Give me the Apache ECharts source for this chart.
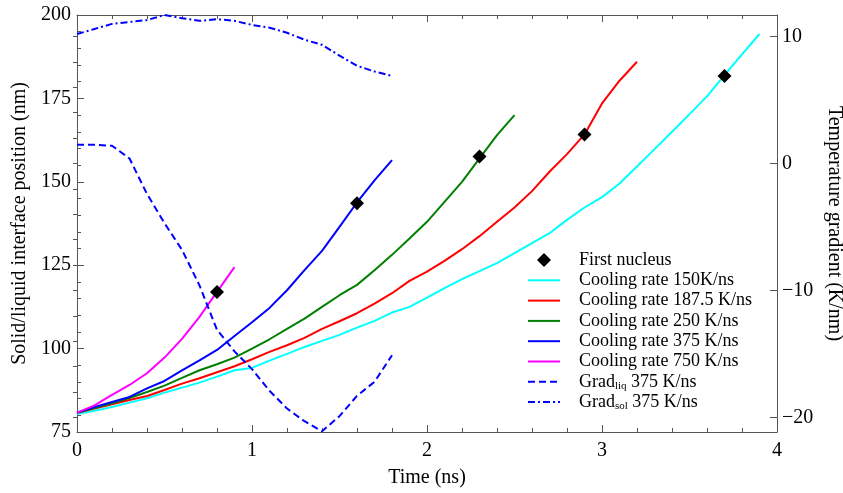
<!DOCTYPE html>
<html>
<head>
<meta charset="utf-8">
<script src="https://cdn.jsdelivr.net/npm/echarts@6/dist/echarts.min.js"></script>
<style>html,body{margin:0;padding:0;background:#fff}#c{width:843px;height:493px}</style>
</head>
<body>
<div id="c"></div>
<script>
// time axis (ns), step 0.1
const time = [0,0.1,0.2,0.3,0.4,0.5,0.6,0.7,0.8,0.9,1.0,1.1,1.2,1.3,1.4,1.5,1.6,1.7,1.8,1.9,2.0,2.1,2.2,2.3,2.4,2.5,2.6,2.7,2.8,2.9,3.0,3.1,3.2,3.3,3.4,3.5,3.6,3.7,3.8,3.9];
// interface position (nm)
const rate150 = [80.4,81.4,82.5,83.8,85.1,86.8,88.3,89.8,91.6,93.5,94.2,96.4,98.4,100.5,102.3,104.1,106.3,108.3,110.8,112.5,115.3,118.1,120.8,123.2,125.6,128.6,131.6,134.6,138.6,142.3,145.4,149.5,154.6,159.8,165,170.3,175.6,182,188.2,194.3];
const rate187 = [80.8,82,83.3,84.6,85.8,87.6,89.5,91.1,92.9,94.7,96.8,99,101,103.2,105.9,108.2,110.6,113.5,116.6,120.3,123.1,126.3,129.8,133.7,138,142.3,147.2,153,158.3,164.2,173.5,180.3,186];
const rate250 = [80.8,82.2,83.6,85.2,87,88.9,91.2,93.5,95.3,97.3,100,102.8,105.9,109,112.5,116,119.1,123.5,128.1,133,138,144,150,157,164,170];
const rate375 = [80.8,82.5,84,85.5,88.1,90.3,93.5,96.5,99.6,103.8,107.9,112.2,117.5,123.5,129.3,136.5,143.8,150.4,156.5];
const rate750 = [80.8,83,86.1,89.1,92.6,97.3,102.9,109.5,117,124.4];
// temperature gradients (K/nm), 375 K/ns
const gradLiq = [1.47,1.47,1.4,0.4,-2.4,-4.7,-6.8,-9.6,-13.1,-14.8,-16.2,-17.9,-19.3,-20.3,-21.1,-19.9,-18.3,-17.2,-15.1];
const gradSol = [10.2,10.6,11.0,11.15,11.3,11.7,11.45,11.24,11.37,11.24,10.92,10.7,10.3,9.75,9.35,8.5,7.7,7.25,6.9];
// first nucleus
const nucleusTime = [0.8,1.6,2.3,2.9,3.7];
const nucleusPos = [117,143.6,157.6,164.2,181.7];
// ticks
const gradTicks = [-20,-10,0,10];
const gradMinor = [-20,-18,-16,-14,-12,-10,-8,-6,-4,-2,0,2,4,6,8,10];

const pairs = (ys) => ys.map((y, i) => [time[i], y]);
const FONT = 'Liberation Serif';
const axisCol = '#555';
const minus = v => String(v).replace('-', '\u2212');

function lineSeries(name, data, color, yIdx, type) {
  return {
    name, type: 'line', data: pairs(data), yAxisIndex: yIdx || 0,
    showSymbol: false, symbol: 'none', smooth: false,
    lineStyle: { color, width: 2, type: type || 'solid' },
    itemStyle: { color, opacity: 0 }, z: 2, animation: false
  };
}

const chart = echarts.init(document.getElementById('c'));
chart.setOption({
  animation: false,
  backgroundColor: '#fff',
  grid: { left: 77, right: 66, top: 15, bottom: 61, containLabel: false, outerBoundsMode: 'none' },
  legend: {
    orient: 'vertical', left: 522, top: 245,
    itemWidth: 32, itemHeight: 14, itemGap: 0.3,
    data: [
      { name: 'First nucleus', icon: 'path://M0,-1 L1,0 L0,1 L-1,0 Z', itemStyle: { color: '#000', opacity: 1 } },
      'Cooling rate 150K/ns','Cooling rate 187.5 K/ns','Cooling rate 250 K/ns','Cooling rate 375 K/ns','Cooling rate 750 K/ns','Grad_liq 375 K/ns','Grad_sol 375 K/ns'],
    formatter: function (name) {
      if (name.indexOf('Grad_') === 0) {
        const sub = name.slice(5, 8);
        return '{n|Grad}{s|' + sub + '}{n| 375 K/ns}';
      }
      return '{n|' + name + '}';
    },
    textStyle: {
      fontFamily: FONT, fontSize: 18, color: '#000', lineHeight: 20,
      padding: [0, 0, 0, 14],
      rich: {
        n: { fontFamily: FONT, fontSize: 18, color: '#000', lineHeight: 20 },
        s: { fontFamily: FONT, fontSize: 11, color: '#000', lineHeight: 20, verticalAlign: 'bottom', padding: [8, 0, 0, 0] }
      }
    }
  },
  xAxis: [
    {
      type: 'value', position: 'bottom', min: 0, max: 4, interval: 1,
      name: 'Time (ns)', nameLocation: 'middle', nameGap: 36,
      nameTextStyle: { fontFamily: FONT, fontSize: 20, color: '#000' },
      axisLine: { show: true, onZero: false, lineStyle: { color: axisCol, width: 1 } },
      axisTick: { show: true, inside: true, length: 7, lineStyle: { color: axisCol } },
      minorTick: { show: true, splitNumber: 5, length: 4, lineStyle: { color: axisCol } },
      axisLabel: { fontFamily: FONT, fontSize: 20, color: '#000', margin: 9 },
      splitLine: { show: false }, minorSplitLine: { show: false }
    },
    {
      type: 'value', position: 'top', min: 0, max: 4, interval: 1,
      axisLine: { show: true, onZero: false, lineStyle: { color: axisCol, width: 1 } },
      axisTick: { show: true, inside: true, length: 7, lineStyle: { color: axisCol } },
      minorTick: { show: true, splitNumber: 5, length: 4, lineStyle: { color: axisCol } },
      axisLabel: { show: false }, splitLine: { show: false }
    }
  ],
  yAxis: [
    {
      type: 'value', position: 'left', min: 75, max: 200, interval: 25,
      name: 'Solid/liquid interface position (nm)', nameLocation: 'middle', nameGap: 45, nameRotate: 90,
      nameTextStyle: { fontFamily: FONT, fontSize: 20, color: '#000' },
      axisLine: { show: true, onZero: false, lineStyle: { color: axisCol, width: 1 } },
      axisTick: { show: true, inside: true, length: 7, lineStyle: { color: axisCol } },
      minorTick: { show: true, splitNumber: 5, length: 4, lineStyle: { color: axisCol } },
      axisLabel: { fontFamily: FONT, fontSize: 20, color: '#000', margin: 6 },
      splitLine: { show: false }, minorSplitLine: { show: false }
    },
    {
      type: 'value', position: 'right', min: -21.15, max: 11.7,
      name: 'Temperature gradient (K/nm)', nameLocation: 'middle', nameGap: 43, nameRotate: -90,
      nameTextStyle: { fontFamily: FONT, fontSize: 20, color: '#000' },
      axisLine: { show: true, onZero: false, lineStyle: { color: axisCol, width: 1 } },
      axisTick: { show: true, inside: true, length: 7, customValues: gradTicks, lineStyle: { color: axisCol } },
      axisLabel: { fontFamily: FONT, fontSize: 20, color: '#000', margin: 5, customValues: gradTicks, formatter: minus },
      splitLine: { show: false }
    },
    {
      type: 'value', position: 'right', min: -21.15, max: 11.7,
      axisLine: { show: false },
      axisTick: { show: true, inside: true, length: 4, customValues: gradMinor, lineStyle: { color: axisCol } },
      axisLabel: { show: false },
      splitLine: { show: false }
    }
  ],
  series: [
    {
      name: 'First nucleus', type: 'scatter', symbol: 'diamond', symbolSize: 14,
      data: nucleusTime.map((t, i) => [t, nucleusPos[i]]),
      itemStyle: { color: '#000', opacity: 1 }, z: 5
    },
    lineSeries('Cooling rate 150K/ns', rate150, '#00ffff'),
    lineSeries('Cooling rate 187.5 K/ns', rate187, '#ff0000'),
    lineSeries('Cooling rate 250 K/ns', rate250, '#008000'),
    lineSeries('Cooling rate 375 K/ns', rate375, '#0000ff'),
    lineSeries('Cooling rate 750 K/ns', rate750, '#ff00ff'),
    lineSeries('Grad_liq 375 K/ns', gradLiq, '#0000ff', 1, [7, 4]),
    lineSeries('Grad_sol 375 K/ns', gradSol, '#0000ff', 1, [7, 3, 2, 3])
  ]
});
</script>
</body>
</html>
